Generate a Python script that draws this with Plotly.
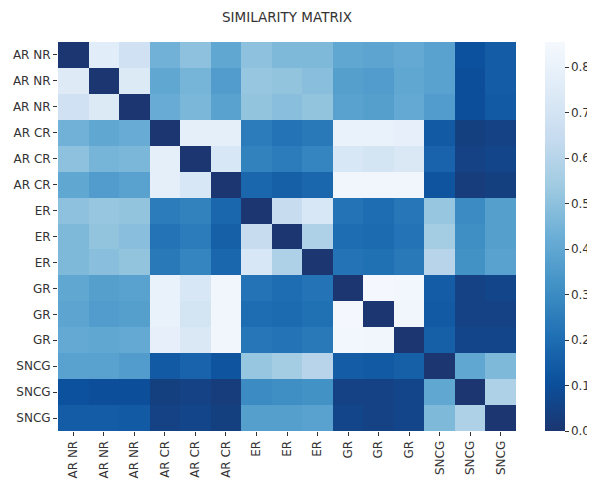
import plotly.graph_objects as go

labels = ["AR NR"] * 3 + ["AR CR"] * 3 + ["ER"] * 3 + ["GR"] * 3 + ["SNCG"] * 3

values = [
    [0.00, 0.76, 0.68, 0.44, 0.50, 0.40, 0.50, 0.47, 0.47, 0.40, 0.39, 0.41, 0.38, 0.11, 0.15],
    [0.75, 0.00, 0.74, 0.40, 0.45, 0.36, 0.52, 0.51, 0.49, 0.37, 0.36, 0.40, 0.38, 0.10, 0.15],
    [0.68, 0.74, 0.00, 0.42, 0.46, 0.38, 0.51, 0.49, 0.51, 0.38, 0.37, 0.41, 0.36, 0.10, 0.14],
    [0.44, 0.40, 0.42, 0.00, 0.78, 0.78, 0.25, 0.22, 0.24, 0.80, 0.80, 0.79, 0.14, 0.04, 0.05],
    [0.50, 0.45, 0.46, 0.78, 0.00, 0.72, 0.27, 0.25, 0.28, 0.72, 0.70, 0.73, 0.17, 0.05, 0.06],
    [0.40, 0.36, 0.38, 0.78, 0.72, 0.00, 0.18, 0.16, 0.18, 0.83, 0.83, 0.83, 0.12, 0.03, 0.04],
    [0.50, 0.52, 0.51, 0.25, 0.27, 0.18, 0.00, 0.65, 0.72, 0.22, 0.20, 0.23, 0.52, 0.30, 0.37],
    [0.47, 0.51, 0.49, 0.22, 0.25, 0.16, 0.65, 0.00, 0.58, 0.20, 0.19, 0.22, 0.55, 0.31, 0.37],
    [0.47, 0.49, 0.51, 0.24, 0.28, 0.18, 0.72, 0.58, 0.00, 0.22, 0.21, 0.24, 0.60, 0.32, 0.38],
    [0.40, 0.37, 0.38, 0.80, 0.72, 0.83, 0.22, 0.20, 0.22, 0.00, 0.85, 0.84, 0.15, 0.05, 0.06],
    [0.39, 0.36, 0.37, 0.80, 0.70, 0.83, 0.20, 0.19, 0.21, 0.85, 0.00, 0.83, 0.14, 0.05, 0.05],
    [0.41, 0.40, 0.41, 0.79, 0.73, 0.83, 0.23, 0.22, 0.24, 0.84, 0.83, 0.00, 0.16, 0.06, 0.06],
    [0.38, 0.38, 0.36, 0.14, 0.17, 0.12, 0.52, 0.55, 0.60, 0.15, 0.14, 0.16, 0.00, 0.40, 0.47],
    [0.11, 0.10, 0.10, 0.04, 0.05, 0.03, 0.30, 0.31, 0.32, 0.05, 0.05, 0.06, 0.40, 0.00, 0.58],
    [0.15, 0.15, 0.14, 0.05, 0.06, 0.04, 0.37, 0.37, 0.38, 0.06, 0.05, 0.06, 0.47, 0.58, 0.00],
]

cbar_ticks = [0.0, 0.1, 0.2, 0.3, 0.4, 0.5, 0.6, 0.7, 0.8]

idx = list(range(len(labels)))

colorscale = [
    [0.0, "#1b3670"],
    [0.125, "#0b509c"],
    [0.25, "#2171b5"],
    [0.375, "#4292c6"],
    [0.5, "#6baed6"],
    [0.625, "#9ecae1"],
    [0.75, "#c6dbef"],
    [0.875, "#deebf7"],
    [1.0, "#f5f9fe"],
]

fig = go.Figure(
    go.Heatmap(
        z=values,
        x=idx,
        y=idx,
        zmin=0,
        zmax=0.855,
        colorscale=colorscale,
        xgap=0,
        ygap=0,
        colorbar=dict(
            x=1.0633,
            xanchor="left",
            xpad=0,
            y=0.5,
            yanchor="middle",
            ypad=0,
            len=1.0,
            lenmode="fraction",
            thickness=20,
            outlinewidth=0,
            tickvals=cbar_ticks,
            ticktext=[f"{v:.1f}" for v in cbar_ticks],
            ticks="outside",
            ticklen=4,
            tickcolor="#333",
            tickfont=dict(size=12, color="#333"),
        ),
    )
)

fig.update_layout(
    width=600,
    height=472,
    margin=dict(l=50, r=92, t=34, b=49, autoexpand=False),
    paper_bgcolor="white",
    plot_bgcolor="white",
    font=dict(family="DejaVu Sans, sans-serif", color="#333"),
    title=dict(
        text="SIMILARITY MATRIX",
        x=(50 + 458 / 2) / 600,
        xanchor="center",
        xref="container",
        yref="container",
        y=0.981,
        yanchor="middle",
        font=dict(size=13.5, color="#333"),
    ),
    xaxis=dict(
        tickmode="array",
        tickvals=idx,
        ticktext=labels,
        tickangle=-90,
        ticks="outside",
        ticklen=4,
        tickcolor="#333",
        tickfont=dict(size=12, color="#333"),
        showgrid=False,
        zeroline=False,
        automargin=False,
        range=[-0.5, 14.5],
    ),
    yaxis=dict(
        tickmode="array",
        tickvals=idx,
        ticktext=labels,
        ticks="outside",
        ticklen=4,
        tickcolor="#333",
        tickfont=dict(size=12, color="#333"),
        showgrid=False,
        zeroline=False,
        automargin=False,
        range=[14.5, -0.5],
    ),
)

fig.write_html("out.html")
